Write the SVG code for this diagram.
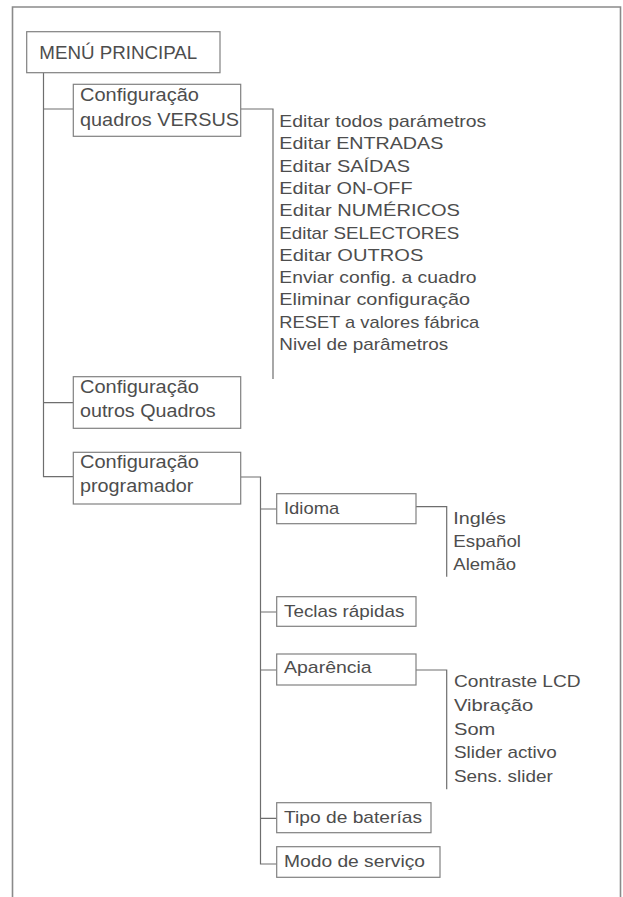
<svg xmlns="http://www.w3.org/2000/svg" width="623" height="897" viewBox="0 0 623 897">
<style>
.frame{fill:none;stroke:#8a8a8a;stroke-width:1.6}
.box{fill:#fff;stroke:#808080;stroke-width:1.2}
.conn path{fill:none;stroke:#6e6e6e;stroke-width:1.2}
text{font-family:"Liberation Sans",Arial,sans-serif;fill:#4d4d4d}
.b{font-size:17.5px}
.l{font-size:17px}
.m{font-size:18.5px}
</style>
<rect x="0" y="0" width="623" height="897" fill="#fff"/>
<path class="frame" d="M12.5,897 V7 H620.5 V897"/>
<g class="conn" id="connectors">
<path d="M43.5,72.7 V476.7 H73.3 M43.5,109 H73.3 M43.5,402.7 H73.3"/>
<path d="M240.7,109 H273 V379"/>
<path d="M240.7,477 H260.5 V864 H276.7 M260.5,509 H276.7 M260.5,612 H276.7 M260.5,670 H276.7 M260.5,818.3 H276.7"/>
<path d="M416,506.7 H446.7 V576.7"/>
<path d="M416,670 H446.7 V789.3"/>
</g>
<g id="menu-principal">
<rect class="box" x="26.7" y="31.7" width="193.3" height="41"/>
<text class="m" x="39.3" y="59" textLength="158" lengthAdjust="spacingAndGlyphs">MENÚ PRINCIPAL</text>
</g>
<g id="config-versus">
<rect class="box" x="73.3" y="84.3" width="167.4" height="52"/>
<text class="b" x="80" y="101" textLength="119" lengthAdjust="spacingAndGlyphs">Configuração</text>
<text class="b" x="80" y="125.5" textLength="159" lengthAdjust="spacingAndGlyphs">quadros  VERSUS</text>
</g>
<g id="versus-list">
<text class="l" x="279.3" y="127" textLength="207" lengthAdjust="spacingAndGlyphs">Editar todos parámetros</text>
<text class="l" x="279.3" y="149.3" textLength="164" lengthAdjust="spacingAndGlyphs">Editar ENTRADAS</text>
<text class="l" x="279.3" y="171.6" textLength="130.7" lengthAdjust="spacingAndGlyphs">Editar SAÍDAS</text>
<text class="l" x="279.3" y="193.9" textLength="133.3" lengthAdjust="spacingAndGlyphs">Editar ON-OFF</text>
<text class="l" x="279.3" y="216.2" textLength="180.7" lengthAdjust="spacingAndGlyphs">Editar NUMÉRICOS</text>
<text class="l" x="279.3" y="238.5" textLength="180" lengthAdjust="spacingAndGlyphs">Editar SELECTORES</text>
<text class="l" x="279.3" y="260.8" textLength="144" lengthAdjust="spacingAndGlyphs">Editar OUTROS</text>
<text class="l" x="279.3" y="283.1" textLength="197.3" lengthAdjust="spacingAndGlyphs">Enviar config. a cuadro</text>
<text class="l" x="279.3" y="305.4" textLength="190.7" lengthAdjust="spacingAndGlyphs">Eliminar configuração</text>
<text class="l" x="279.3" y="327.7" textLength="200" lengthAdjust="spacingAndGlyphs">RESET a valores fábrica</text>
<text class="l" x="279.3" y="350" textLength="169" lengthAdjust="spacingAndGlyphs">Nivel de parâmetros</text>
</g>
<g id="config-outros">
<rect class="box" x="73.3" y="376.7" width="167.4" height="51.6"/>
<text class="b" x="80" y="393.3" textLength="119" lengthAdjust="spacingAndGlyphs">Configuração</text>
<text class="b" x="80" y="417.3" textLength="135.7" lengthAdjust="spacingAndGlyphs">outros Quadros</text>
</g>
<g id="config-programador">
<rect class="box" x="73.3" y="452.3" width="167.4" height="51.7"/>
<text class="b" x="80" y="468.3" textLength="119" lengthAdjust="spacingAndGlyphs">Configuração</text>
<text class="b" x="80" y="492.3" textLength="113.3" lengthAdjust="spacingAndGlyphs">programador</text>
</g>
<g id="idioma">
<rect class="box" x="276.7" y="493.7" width="139.3" height="30"/>
<text class="l" x="284" y="514.3" textLength="55.3" lengthAdjust="spacingAndGlyphs">Idioma</text>
</g>
<g id="idioma-list">
<text class="l" x="453.3" y="524" textLength="52.7" lengthAdjust="spacingAndGlyphs">Inglés</text>
<text class="l" x="453.3" y="546.7" textLength="67.7" lengthAdjust="spacingAndGlyphs">Español</text>
<text class="l" x="453.3" y="570" textLength="62.7" lengthAdjust="spacingAndGlyphs">Alemão</text>
</g>
<g id="teclas">
<rect class="box" x="276.7" y="596.7" width="139.3" height="29.6"/>
<text class="l" x="284" y="616.7" textLength="120.3" lengthAdjust="spacingAndGlyphs">Teclas rápidas</text>
</g>
<g id="aparencia">
<rect class="box" x="276.7" y="654" width="139.3" height="31"/>
<text class="l" x="284" y="672.7" textLength="87.7" lengthAdjust="spacingAndGlyphs">Aparência</text>
</g>
<g id="aparencia-list">
<text class="l" x="454" y="686.7" textLength="126.7" lengthAdjust="spacingAndGlyphs">Contraste  LCD</text>
<text class="l" x="454" y="710.7" textLength="79.3" lengthAdjust="spacingAndGlyphs">Vibração</text>
<text class="l" x="454" y="734.7" textLength="41.3" lengthAdjust="spacingAndGlyphs">Som</text>
<text class="l" x="454" y="758.3" textLength="102.7" lengthAdjust="spacingAndGlyphs">Slider activo</text>
<text class="l" x="454" y="781.7" textLength="98.7" lengthAdjust="spacingAndGlyphs">Sens. slider</text>
</g>
<g id="tipo-baterias">
<rect class="box" x="276.7" y="802.7" width="154.3" height="30"/>
<text class="l" x="284" y="823.3" textLength="138" lengthAdjust="spacingAndGlyphs">Tipo de baterías</text>
</g>
<g id="modo-servico">
<rect class="box" x="276.7" y="846.7" width="163.3" height="30.6"/>
<text class="l" x="284" y="866.7" textLength="141" lengthAdjust="spacingAndGlyphs">Modo de serviço</text>
</g>
</svg>
